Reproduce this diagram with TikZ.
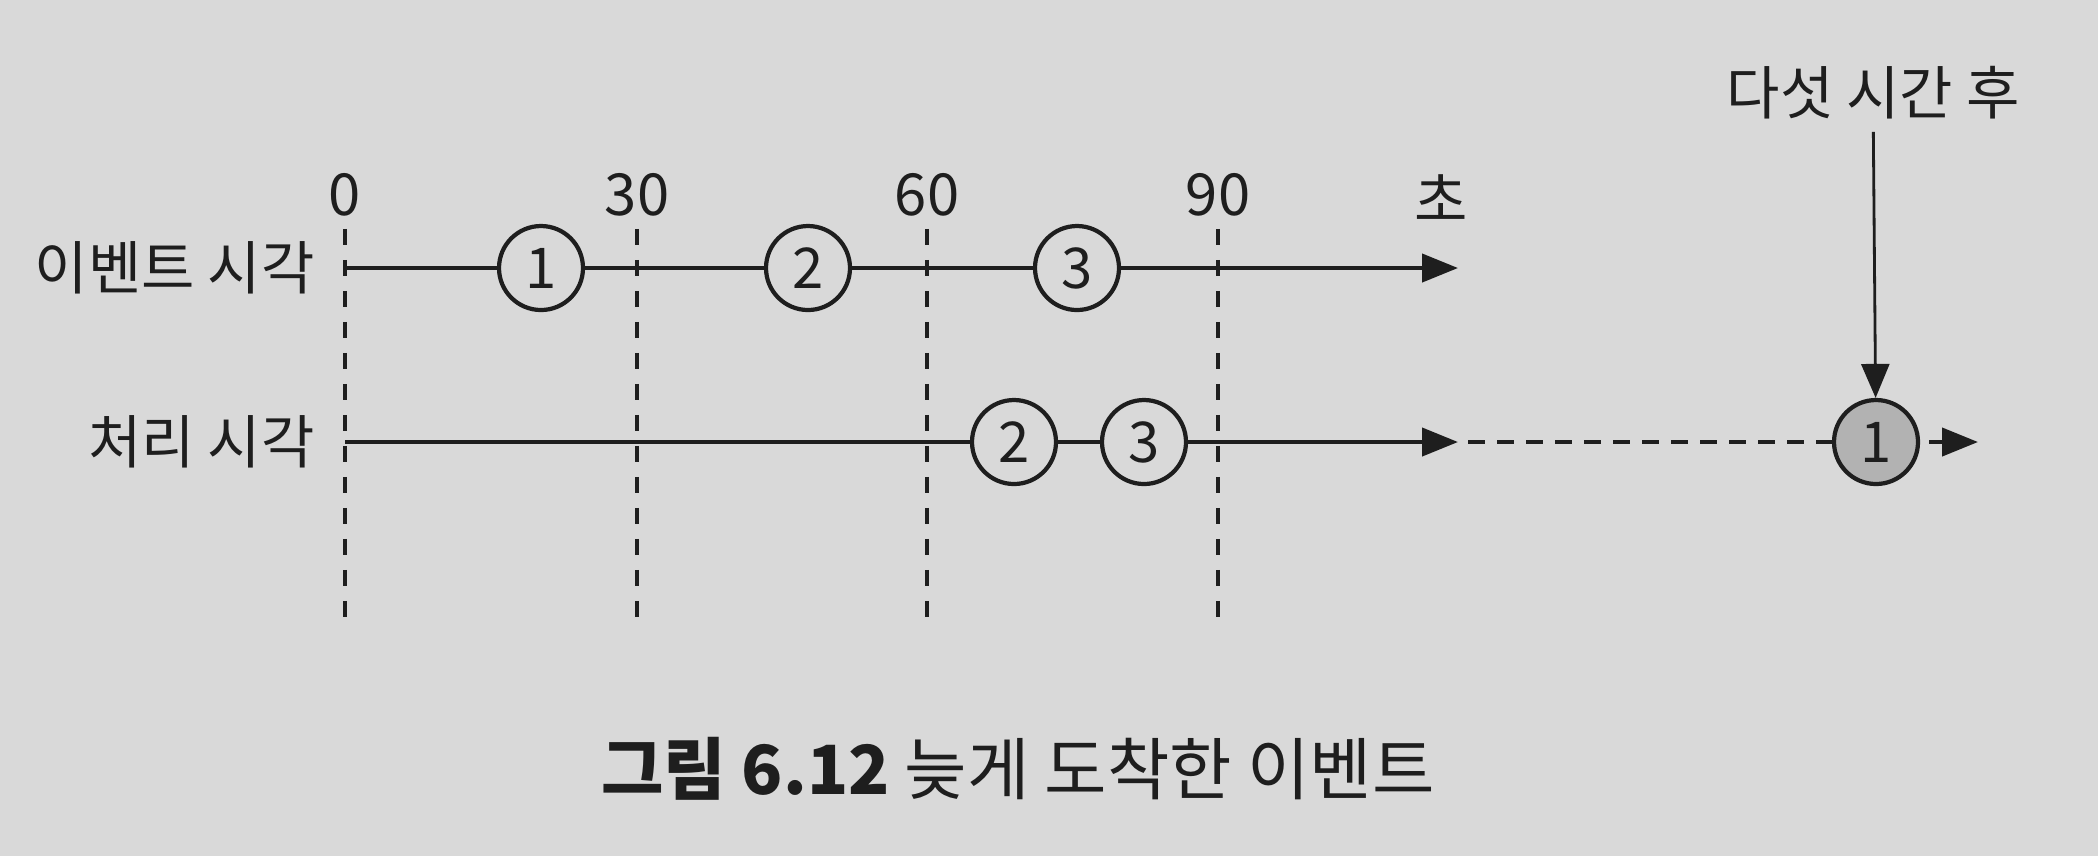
\documentclass[tikz,border=0pt]{standalone}
\usepackage{fontspec}
\setmainfont{Noto Sans CJK KR}
\usetikzlibrary{arrows.meta}

\definecolor{paper}{RGB}{217,217,217}
\definecolor{ink}{RGB}{30,30,30}

\tikzset{
  lbl/.style={font=\fontsize{16.5}{20}\selectfont},
  evt/.style={circle, draw, line width=1.2pt, minimum size=0.84cm, inner sep=0pt,
    fill=paper, font=\fontsize{16}{19}\selectfont},
  late/.style={evt, fill=gray!60},
  axis/.style={line width=1.2pt, -{Triangle[length=0.36cm, width=0.28cm]}},
  guide/.style={line width=0.9pt, dash pattern=on 0.16cm off 0.15cm},
}

\begin{document}
\begin{tikzpicture}[color=ink]
				\fill[paper] (0,0) rectangle (20.98,-8.56);
				
				% time marks
				\foreach \t/\x in {0/3.45, 30/6.37, 60/9.27, 90/12.18} {
					\node[lbl] (t\t) at (\x,-1.95) {\t};
					\coordinate (g\t) at (\x,-6.3);
					\draw[guide] (t\t.south) -- (g\t);
				}
				\node[lbl] (unit) at (14.41,-1.98) {초};
				
				% event time
				\node[lbl, anchor=east] (evlbl) at (3.27,-2.68) {이벤트 시각};
				\coordinate (e0) at (3.45,-2.68);
				\coordinate (eEnd) at (14.58,-2.68);
				\node[evt] (ev1) at (5.41,-2.68) {1};
				\node[evt] (ev2) at (8.08,-2.68) {2};
				\node[evt] (ev3) at (10.77,-2.68) {3};
				\draw[axis] (e0) -- (ev1) -- (ev2) -- (ev3) -- (eEnd);
				
				% processing time
				\node[lbl, anchor=east] (prlbl) at (3.27,-4.42) {처리 시각};
				\coordinate (p0) at (3.45,-4.42);
				\coordinate (pEnd) at (14.58,-4.42);
				\coordinate (pGap) at (14.68,-4.42);
				\node[evt] (pr2) at (10.14,-4.42) {2};
				\node[evt] (pr3) at (11.44,-4.42) {3};
				\node[late] (pr1) at (18.76,-4.42) {1};
				\coordinate (pTip) at (19.78,-4.42);
				\draw[axis] (p0) -- (pr2) -- (pr3) -- (pEnd);
				\draw[line width=1.3pt, dash pattern=on 0.17cm off 0.12cm] (pGap) -- (pr1);
				\draw[axis, shorten <=0.09cm] (pr1) -- (pTip);
				
				% five hours later
				\node[lbl] (later) at (18.73,-0.93) {다섯 시간 후};
				\draw[line width=0.8pt, -{Triangle[length=0.34cm, width=0.28cm]}] (later) -- (pr1);
				
				\node[font=\fontsize{19.3}{23}\selectfont] (cap) at (10.18,-7.69)
					{\textbf{그림 6.12} 늦게 도착한 이벤트};
			\end{tikzpicture}
\end{document}
